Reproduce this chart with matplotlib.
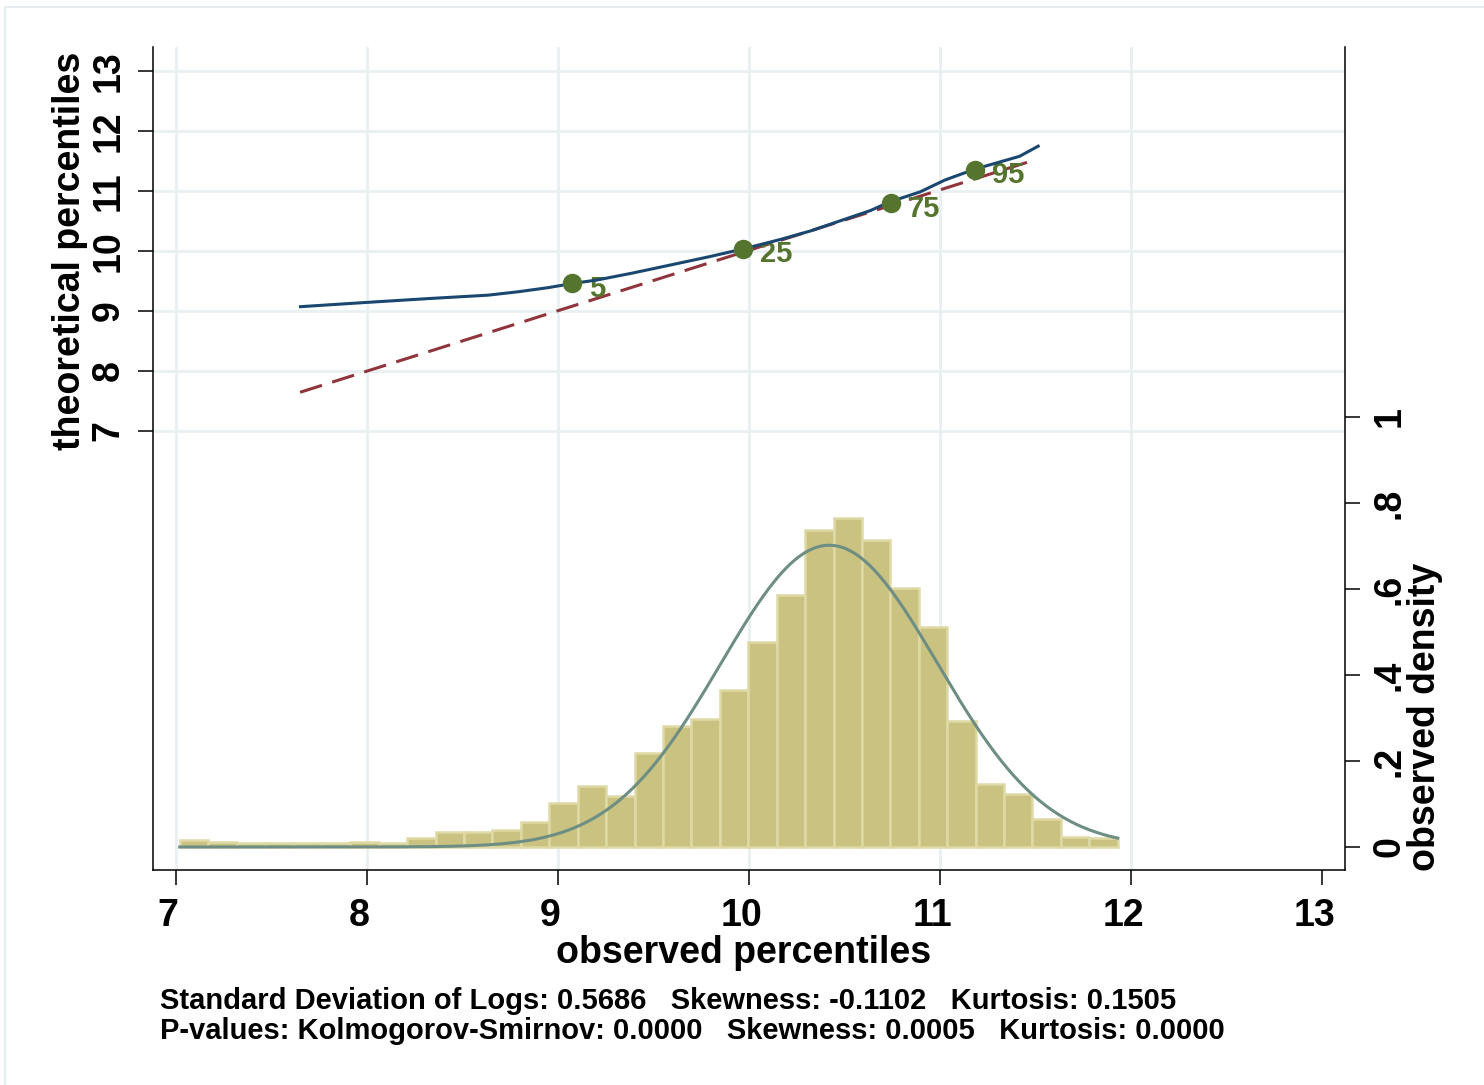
import matplotlib
matplotlib.use("Agg")
import matplotlib.pyplot as plt
import matplotlib.patches as mpatches
import matplotlib.transforms as mtransforms
import numpy as np

# Квантильний графік (спостережені vs теоретичні процентилі)
q_obs = [7.652, 7.984, 8.322, 8.634, 8.79, 8.946, 9.071, 9.206, 9.388, 9.596,
         9.804, 9.973, 10.168, 10.324, 10.48, 10.636, 10.735, 10.896, 11.026,
         11.182, 11.416, 11.514]
q_theo = [9.068, 9.136, 9.203, 9.26, 9.316, 9.384, 9.452, 9.514, 9.627, 9.768,
          9.91, 10.034, 10.192, 10.333, 10.503, 10.672, 10.814, 10.983, 11.181,
          11.362, 11.576, 11.746]

# Опорна лінія
ref_x = [7.65, 11.49]
ref_y = [7.64, 11.51]

# Позначені процентилі
pct_labels = ["5", "25", "75", "95"]
pct_x = [9.073, 9.969, 10.743, 11.183]
pct_y = [9.46, 10.033, 10.79, 11.35]

# Гістограма (щільність)
bin_start = 7.02
bin_width = 0.1488
density = [0.016, 0.012, 0.010, 0.010, 0.0085, 0.0085, 0.012, 0.010, 0.022,
           0.034, 0.034, 0.040, 0.058, 0.103, 0.142, 0.119, 0.219, 0.282,
           0.298, 0.365, 0.477, 0.585, 0.737, 0.764, 0.714, 0.603, 0.512,
           0.294, 0.147, 0.123, 0.064, 0.024, 0.022]

# Нормальна крива
norm_mean = 10.42
norm_sd = 0.5686
norm_range = (7.02, 11.93)

x_ticks = [7, 8, 9, 10, 11, 12, 13]
left_ticks = [7, 8, 9, 10, 11, 12, 13]
right_ticks = [0, 0.2, 0.4, 0.6, 0.8, 1]
right_labels = ["0", ".2", ".4", ".6", ".8", "1"]

notes = ["Standard Deviation of Logs: 0.5686   Skewness: -0.1102   Kurtosis: 0.1505",
         "P-values: Kolmogorov-Smirnov: 0.0000   Skewness: 0.0005   Kurtosis: 0.0000"]

W, H = 1484, 1085
plt.rcParams['font.family'] = ['Liberation Sans', 'DejaVu Sans']
plt.rcParams['font.weight'] = 'bold'

fig = plt.figure(figsize=(W / 100, H / 100), dpi=100)
fig.patches.append(mpatches.Rectangle((5 / W, -0.1), 1.1, (H - 7) / H + 0.1,
                                      transform=fig.transFigure, fill=False,
                                      edgecolor='#e6edf0', lw=1.5))

ax = fig.add_axes([153 / W, 1 - 870 / H, (1345 - 153) / W, (870 - 47) / H])
ax.set_xlim(6.88, 13.12)
ax.set_ylim(-0.33, 13.4)

ax2 = ax.twinx()
ax2.set_ylim(-0.0535, 1.860)

grid_col = '#e9f0f2'
ax.set_xticks(x_ticks)
ax.set_yticks(left_ticks)
ax.grid(True, color=grid_col, lw=2)
ax.set_axisbelow(True)
ax.get_xgridlines()[-1].set_visible(False)

# гістограма
edges = bin_start + bin_width * np.arange(len(density))
ax2.bar(edges, density, width=bin_width, align='edge', color='#cac281',
        edgecolor='#dfd9a6', linewidth=1.8, zorder=2)

xx = np.linspace(norm_range[0], norm_range[1], 300)
yy = np.exp(-0.5 * ((xx - norm_mean) / norm_sd) ** 2) / (norm_sd * np.sqrt(2 * np.pi))
ax2.plot(xx, yy, color='#6e8e84', lw=2.2, zorder=3)

# квантилі
ax.plot(ref_x, ref_y, color='#90353b', lw=2.2, dashes=(7.5, 3.5), zorder=3)
ax.plot(q_obs, q_theo, color='#1a476f', lw=2.2, zorder=4)
ax.plot(pct_x, pct_y, 'o', color='#55752f', markersize=13, zorder=5)
for lab, px, py in zip(pct_labels, pct_x, pct_y):
    ax.annotate(lab, (px, py), xytext=(12, -4), textcoords='offset points',
                ha='left', va='center', color='#55752f', fontsize=21,
                fontweight='bold')

# осі
for s in ['top', 'right']:
    ax.spines[s].set_visible(False)
for s in ['top', 'left', 'bottom']:
    ax2.spines[s].set_visible(False)
for sp in [ax.spines['left'], ax.spines['bottom'], ax2.spines['right']]:
    sp.set_linewidth(1.1)

ax.tick_params(axis='y', direction='out', length=11, width=1.1,
               labelsize=27, pad=8)
ax.tick_params(axis='x', direction='out', length=11, width=1.1,
               labelsize=27, pad=9)
ax.set_xticklabels([str(t) for t in x_ticks])
ax.set_yticklabels([str(t) for t in left_ticks], rotation=90, va='center')
shift = mtransforms.ScaledTranslation(-8 / 100, 0, fig.dpi_scale_trans)
for lbl in ax.get_xticklabels():
    lbl.set_transform(lbl.get_transform() + shift)

ax2.set_yticks(right_ticks)
ax2.set_yticklabels(right_labels, rotation=90, va='center')
ax2.tick_params(axis='y', direction='out', length=11, width=1.1,
                labelsize=27, pad=8)

fig.text(70 / W, 1 - 251 / H, 'theoretical percentiles', rotation=90,
         ha='center', va='center', fontsize=27, fontweight='bold')
fig.text(1425 / W, 1 - 717 / H, 'observed density', rotation=90,
         ha='center', va='center', fontsize=27, fontweight='bold')
fig.text(744 / W, 1 - 953 / H, 'observed percentiles',
         ha='center', va='center', fontsize=27, fontweight='bold')

fig.text(160 / W, 1 - 1001 / H, notes[0], ha='left', va='center',
         fontsize=21, fontweight='bold')
fig.text(160 / W, 1 - 1031 / H, notes[1], ha='left', va='center',
         fontsize=21, fontweight='bold')

fig.savefig('out.png', dpi=100, facecolor='white')
